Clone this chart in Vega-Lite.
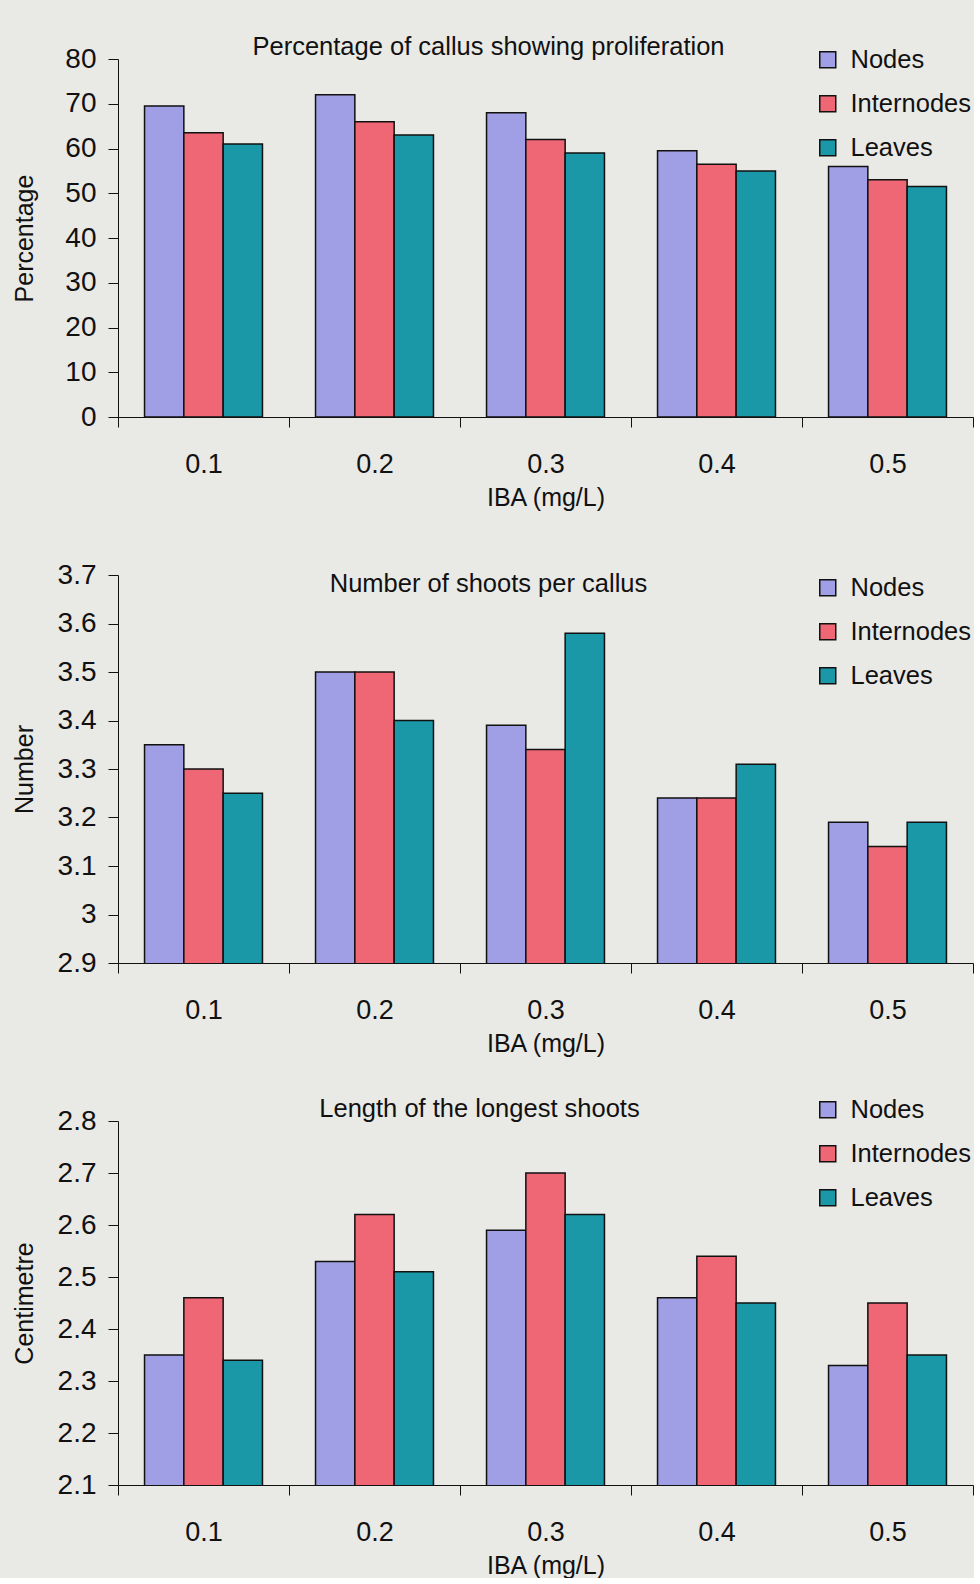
{
  "$schema": "https://vega.github.io/schema/vega-lite/v6.json",
  "background": "#e9e9e6",
  "padding": {"left": 12, "top": 34, "right": 0, "bottom": 0},
  "bounds": "flush",
  "spacing": 158,
  "resolve": {"scale": {"color": "independent"}, "legend": {"color": "independent"}},
  "config": {
    "font": "Liberation Sans",
    "view": {"stroke": null},
    "axis": {
      "domainColor": "#111111",
      "tickColor": "#111111",
      "labelColor": "#111111",
      "titleColor": "#111111",
      "grid": false,
      "labelFont": "Liberation Sans",
      "titleFont": "Liberation Sans",
      "titleFontWeight": "normal",
      "tickSize": 10,
      "labelFontSize": 27,
      "titleFontSize": 25
    },
    "axisX": {"labelAngle": 0, "tickBand": "extent", "labelPadding": 24, "titlePadding": 8},
    "axisY": {"labelPadding": 12, "labelFontSize": 28, "titleX": -86, "titleBaseline": "alphabetic", "format": "~r"},
    "legend": {
      "orient": "none",
      "symbolType": "square",
      "symbolSize": 256,
      "symbolStrokeColor": "#111111",
      "symbolStrokeWidth": 1.5,
      "labelFontSize": 25.5,
      "labelColor": "#111111",
      "labelFont": "Liberation Sans",
      "labelOffset": 10,
      "rowPadding": 17,
      "padding": 0
    },
    "title": {"fontSize": 25.5, "fontWeight": "normal", "color": "#111111", "font": "Liberation Sans", "anchor": "middle", "frame": "group", "baseline": "alphabetic"}
  },
  "datasets": {
    "pct": [
      {"IBA": "0.1", "Explant": "Nodes", "value": 69.5},
      {"IBA": "0.1", "Explant": "Internodes", "value": 63.5},
      {"IBA": "0.1", "Explant": "Leaves", "value": 61},
      {"IBA": "0.2", "Explant": "Nodes", "value": 72},
      {"IBA": "0.2", "Explant": "Internodes", "value": 66},
      {"IBA": "0.2", "Explant": "Leaves", "value": 63},
      {"IBA": "0.3", "Explant": "Nodes", "value": 68},
      {"IBA": "0.3", "Explant": "Internodes", "value": 62},
      {"IBA": "0.3", "Explant": "Leaves", "value": 59},
      {"IBA": "0.4", "Explant": "Nodes", "value": 59.5},
      {"IBA": "0.4", "Explant": "Internodes", "value": 56.5},
      {"IBA": "0.4", "Explant": "Leaves", "value": 55},
      {"IBA": "0.5", "Explant": "Nodes", "value": 56},
      {"IBA": "0.5", "Explant": "Internodes", "value": 53},
      {"IBA": "0.5", "Explant": "Leaves", "value": 51.5}
    ],
    "num": [
      {"IBA": "0.1", "Explant": "Nodes", "value": 3.35},
      {"IBA": "0.1", "Explant": "Internodes", "value": 3.30},
      {"IBA": "0.1", "Explant": "Leaves", "value": 3.25},
      {"IBA": "0.2", "Explant": "Nodes", "value": 3.50},
      {"IBA": "0.2", "Explant": "Internodes", "value": 3.50},
      {"IBA": "0.2", "Explant": "Leaves", "value": 3.40},
      {"IBA": "0.3", "Explant": "Nodes", "value": 3.39},
      {"IBA": "0.3", "Explant": "Internodes", "value": 3.34},
      {"IBA": "0.3", "Explant": "Leaves", "value": 3.58},
      {"IBA": "0.4", "Explant": "Nodes", "value": 3.24},
      {"IBA": "0.4", "Explant": "Internodes", "value": 3.24},
      {"IBA": "0.4", "Explant": "Leaves", "value": 3.31},
      {"IBA": "0.5", "Explant": "Nodes", "value": 3.19},
      {"IBA": "0.5", "Explant": "Internodes", "value": 3.14},
      {"IBA": "0.5", "Explant": "Leaves", "value": 3.19}
    ],
    "len": [
      {"IBA": "0.1", "Explant": "Nodes", "value": 2.35},
      {"IBA": "0.1", "Explant": "Internodes", "value": 2.46},
      {"IBA": "0.1", "Explant": "Leaves", "value": 2.34},
      {"IBA": "0.2", "Explant": "Nodes", "value": 2.53},
      {"IBA": "0.2", "Explant": "Internodes", "value": 2.62},
      {"IBA": "0.2", "Explant": "Leaves", "value": 2.51},
      {"IBA": "0.3", "Explant": "Nodes", "value": 2.59},
      {"IBA": "0.3", "Explant": "Internodes", "value": 2.70},
      {"IBA": "0.3", "Explant": "Leaves", "value": 2.62},
      {"IBA": "0.4", "Explant": "Nodes", "value": 2.46},
      {"IBA": "0.4", "Explant": "Internodes", "value": 2.54},
      {"IBA": "0.4", "Explant": "Leaves", "value": 2.45},
      {"IBA": "0.5", "Explant": "Nodes", "value": 2.33},
      {"IBA": "0.5", "Explant": "Internodes", "value": 2.45},
      {"IBA": "0.5", "Explant": "Leaves", "value": 2.35}
    ]
  },
  "vconcat": [
    {
      "data": {"name": "pct"},
      "width": 855,
      "height": 358,
      "title": {"text": "Percentage of callus showing proliferation", "offset": -15, "dx": -57},
      "mark": {"type": "bar", "stroke": "#111111", "strokeWidth": 1.5, "clip": true},
      "encoding": {
        "x": {"field": "IBA", "type": "nominal", "sort": ["0.1", "0.2", "0.3", "0.4", "0.5"], "scale": {"paddingInner": 0, "paddingOuter": 0}, "axis": {"title": "IBA (mg/L)"}},
        "xOffset": {"field": "Explant", "sort": ["Nodes", "Internodes", "Leaves"], "scale": {"paddingInner": 0, "paddingOuter": 0.675}},
        "y": {"field": "value", "type": "quantitative", "scale": {"domain": [0, 80], "nice": false, "zero": false}, "axis": {"title": "Percentage", "values": [0, 10, 20, 30, 40, 50, 60, 70, 80]}},
        "color": {"field": "Explant", "type": "nominal", "scale": {"domain": ["Nodes", "Internodes", "Leaves"], "range": ["#a09ee4", "#ef6674", "#1b98a8"]}, "legend": {"title": null, "legendX": 697, "legendY": -12}}
      }
    },
    {
      "data": {"name": "num"},
      "width": 855,
      "height": 388,
      "title": {"text": "Number of shoots per callus", "offset": -36, "dx": -57},
      "mark": {"type": "bar", "stroke": "#111111", "strokeWidth": 1.5, "clip": true},
      "encoding": {
        "x": {"field": "IBA", "type": "nominal", "sort": ["0.1", "0.2", "0.3", "0.4", "0.5"], "scale": {"paddingInner": 0, "paddingOuter": 0}, "axis": {"title": "IBA (mg/L)"}},
        "xOffset": {"field": "Explant", "sort": ["Nodes", "Internodes", "Leaves"], "scale": {"paddingInner": 0, "paddingOuter": 0.675}},
        "y": {"field": "value", "type": "quantitative", "scale": {"domain": [2.9, 3.7], "nice": false, "zero": false}, "axis": {"title": "Number", "values": [2.9, 3, 3.1, 3.2, 3.3, 3.4, 3.5, 3.6, 3.7]}},
        "color": {"field": "Explant", "type": "nominal", "scale": {"domain": ["Nodes", "Internodes", "Leaves"], "range": ["#a09ee4", "#ef6674", "#1b98a8"]}, "legend": {"title": null, "legendX": 697, "legendY": 0}}
      }
    },
    {
      "data": {"name": "len"},
      "width": 855,
      "height": 364,
      "title": {"text": "Length of the longest shoots", "offset": -25, "dx": -66},
      "mark": {"type": "bar", "stroke": "#111111", "strokeWidth": 1.5, "clip": true},
      "encoding": {
        "x": {"field": "IBA", "type": "nominal", "sort": ["0.1", "0.2", "0.3", "0.4", "0.5"], "scale": {"paddingInner": 0, "paddingOuter": 0}, "axis": {"title": "IBA (mg/L)"}},
        "xOffset": {"field": "Explant", "sort": ["Nodes", "Internodes", "Leaves"], "scale": {"paddingInner": 0, "paddingOuter": 0.675}},
        "y": {"field": "value", "type": "quantitative", "scale": {"domain": [2.1, 2.8], "nice": false, "zero": false}, "axis": {"title": "Centimetre", "values": [2.1, 2.2, 2.3, 2.4, 2.5, 2.6, 2.7, 2.8]}},
        "color": {"field": "Explant", "type": "nominal", "scale": {"domain": ["Nodes", "Internodes", "Leaves"], "range": ["#a09ee4", "#ef6674", "#1b98a8"]}, "legend": {"title": null, "legendX": 697, "legendY": -24}}
      }
    }
  ]
}
